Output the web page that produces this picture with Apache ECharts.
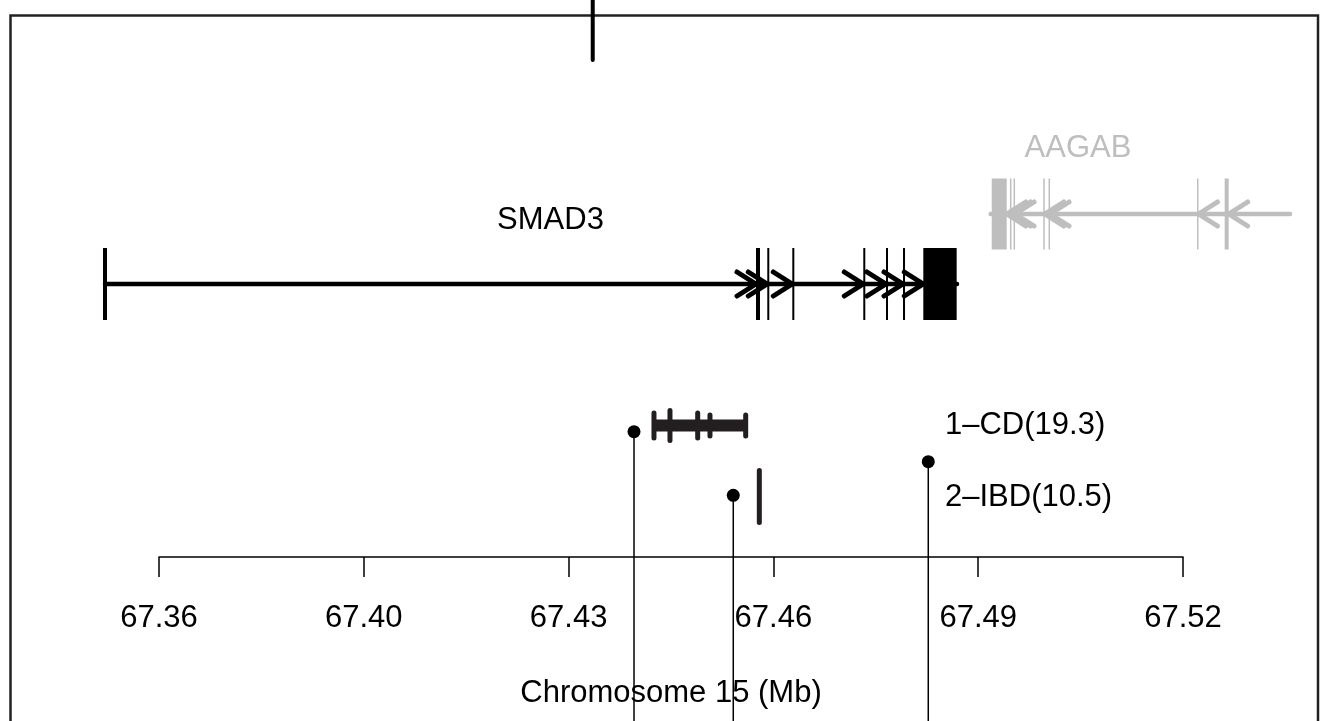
<!DOCTYPE html>
<html>
<head>
<meta charset="utf-8">
<script src="https://cdn.jsdelivr.net/npm/echarts@6/dist/echarts.min.js"></script>
<style>
  html, body { margin: 0; padding: 0; background: #fff; }
  #chart { width: 1328px; height: 721px; }
</style>
</head>
<body>
<div id="chart"></div>
<script>
// ---- Axis ticks (Mb) and the labels printed under them ----
const tickValues = [67.36, 67.392, 67.424, 67.456, 67.488, 67.52];
const tickLabels = ['67.36', '67.40', '67.43', '67.46', '67.49', '67.52'];

// ---- Gene models (Mb) ----
const geneNames  = ['SMAD3', 'AAGAB'];
const geneStrand = ['+', '-'];
const geneStart  = [67.35156, 67.48995];
const geneEnd    = [67.48469, 67.53672];
const geneLabelPos = [67.42117, 67.50359];

const smad3ExonStart = [67.35141, 67.45344, 67.45520, 67.45911, 67.47020, 67.47375, 67.47641, 67.47958];
const smad3ExonEnd   = [67.35172, 67.45375, 67.45520, 67.45911, 67.47020, 67.47375, 67.47641, 67.48448];

const aagabExonStart = [67.49023, 67.49308, 67.49364, 67.49828, 67.49911, 67.52230, 67.52663];
const aagabExonEnd   = [67.49234, 67.49308, 67.49364, 67.49828, 67.49911, 67.52230, 67.52702];

// ---- Credible sets: variant positions (Mb) and relative tick weight ----
const credSetNames = ['1\u2013CD(19.3)', '2\u2013IBD(10.5)'];
const cs1Pos    = [67.43734, 67.43984, 67.44417, 67.44609, 67.45167];
const cs1Weight = [0.53, 0.61, 0.53, 0.46, 0.46];
const cs2Pos    = [67.45380];
const cs2Weight = [1.0];

// ---- Lead SNPs (Mb) and a marker reaching in from the panel above ----
const leadSnpPos   = [67.43422, 67.44973, 67.48020];
const upperMarkPos = [67.42777];

// ------------------------------------------------------------------
// layout
const X_MIN = 67.33671875, X_MAX = 67.54109375;   // plot frame extent
const FONT = 'Liberation Sans';
const FS = 31;
const GENE_ROW = [268, 198];          // y (px below frame top) of each gene backbone
const GENE_LABEL_ROW = [204, 132];
const EXON_HALF = [36, 35.5];
const GENE_COLOR = ['#000000', '#bebebe'];
const GENE_LW = [4.5, 4.5];
const EXON_STROKE = [2, 1.5];
const CS_ROW = [409.5, 480.5];
const CS_LABEL_ROW = [409.5, 481.5];
const CS_LABEL_X = 67.48281;
const CS_TICK_MAX = 57;
const CS_COLOR = '#231f20';
const LEAD_ROW = [415.7, 479.3, 445.7];

const exonStarts = [smad3ExonStart, aagabExonStart];
const exonEnds   = [smad3ExonEnd, aagabExonEnd];
const credSets = [
  { pos: cs1Pos, w: cs1Weight },
  { pos: cs2Pos, w: cs2Weight }
];

function nearestTick(v) {
  let best = 0;
  for (let i = 1; i < tickValues.length; i++) {
    if (Math.abs(tickValues[i] - v) < Math.abs(tickValues[best] - v)) best = i;
  }
  return best;
}

// Gene: backbone, strand chevrons on every intron, exon blocks, name
function renderGene(params, api) {
  const g = api.value(2);
  const row = GENE_ROW[g];
  const color = GENE_COLOR[g];
  const sw = EXON_STROKE[g];
  const p0 = api.coord([geneStart[g], row]);
  const p1 = api.coord([geneEnd[g], row]);
  const y = p0[1];
  const children = [];

  children.push({
    type: 'line',
    shape: { x1: p0[0], y1: y, x2: p1[0], y2: y },
    style: { stroke: color, lineWidth: GENE_LW[g], lineCap: 'round' }
  });

  const es = exonStarts[g], ee = exonEnds[g];
  const introns = [];
  if (es[0] - geneStart[g] > 0.001) introns.push([geneStart[g], es[0]]);
  for (let i = 0; i < es.length - 1; i++) introns.push([ee[i], es[i + 1]]);
  if (geneEnd[g] - ee[ee.length - 1] > 0.001) introns.push([ee[ee.length - 1], geneEnd[g]]);

  const L = 19, H = 12;
  introns.forEach(function (seg) {
    let tip, dir;
    if (geneStrand[g] === '+') {
      tip = api.coord([seg[1], row])[0] - sw / 2; dir = 1;
    } else {
      tip = api.coord([seg[0], row])[0] + sw / 2; dir = -1;
    }
    children.push({
      type: 'polyline',
      shape: { points: [[tip - dir * L, y - H], [tip, y], [tip - dir * L, y + H]] },
      style: { stroke: color, lineWidth: 5, lineCap: 'round', lineJoin: 'round', fill: null }
    });
  });

  for (let i = 0; i < es.length; i++) {
    const a = api.coord([es[i], row])[0];
    const b = api.coord([ee[i], row])[0];
    children.push({
      type: 'rect',
      shape: { x: a, y: y - EXON_HALF[g] + sw / 2, width: Math.max(b - a, 0.01), height: 2 * EXON_HALF[g] - sw },
      style: { fill: color, stroke: color, lineWidth: sw }
    });
  }

  const lp = api.coord([geneLabelPos[g], GENE_LABEL_ROW[g]]);
  children.push({
    type: 'text',
    style: {
      text: geneNames[g], x: lp[0], y: lp[1], fill: color,
      fontSize: FS, fontFamily: FONT, align: 'center', verticalAlign: 'middle'
    }
  });
  return { type: 'group', children: children };
}

// Credible set: span bar, one tick per variant, set label
function renderCredSet(params, api) {
  const k = api.value(2);
  const cs = credSets[k];
  const row = CS_ROW[k];
  const children = [];
  const xs = cs.pos.map(function (p) { return api.coord([p, row])[0]; });
  const y = api.coord([cs.pos[0], row])[1];
  if (xs.length > 1) {
    children.push({
      type: 'line',
      shape: { x1: Math.min.apply(null, xs), y1: y, x2: Math.max.apply(null, xs), y2: y },
      style: { stroke: CS_COLOR, lineWidth: 12, lineCap: 'butt' }
    });
  }
  xs.forEach(function (x, i) {
    const half = cs.w[i] * CS_TICK_MAX / 2 - 2.5;
    children.push({
      type: 'line',
      shape: { x1: x, y1: y - half, x2: x, y2: y + half },
      style: { stroke: CS_COLOR, lineWidth: 5, lineCap: 'round' }
    });
  });
  const lp = api.coord([CS_LABEL_X, CS_LABEL_ROW[k]]);
  children.push({
    type: 'text',
    style: {
      text: credSetNames[k], x: lp[0], y: lp[1], fill: '#000',
      fontSize: FS, fontFamily: FONT, align: 'left', verticalAlign: 'middle'
    }
  });
  return { type: 'group', children: children };
}

// Lead SNP: dot with a stem running to the bottom of the page
function renderLead(params, api) {
  const i = api.value(1);
  const p = api.coord([api.value(0), LEAD_ROW[i]]);
  return {
    type: 'group',
    children: [
      { type: 'line', shape: { x1: p[0], y1: p[1], x2: p[0], y2: 760 },
        style: { stroke: '#000', lineWidth: 1.5 } },
      { type: 'circle', shape: { cx: p[0], cy: p[1], r: 6.5 }, style: { fill: '#000' } }
    ]
  };
}

// Marker entering from above the frame
function renderUpper(params, api) {
  const top = api.coord([api.value(0), -40]);
  const bot = api.coord([api.value(0), 44]);
  return {
    type: 'line',
    shape: { x1: top[0], y1: top[1], x2: bot[0], y2: bot[1] },
    style: { stroke: '#000', lineWidth: 4, lineCap: 'round' }
  };
}

const chart = echarts.init(document.getElementById('chart'), null, { renderer: 'canvas' });

chart.setOption({
  animation: false,
  backgroundColor: '#ffffff',
  grid: [
    { left: 10, right: 10, top: 16, bottom: 0, show: false },
    { left: 159, right: 145, top: 556, height: 1, show: false }
  ],
  xAxis: [
    { gridIndex: 0, type: 'value', min: X_MIN, max: X_MAX, show: false },
    {
      gridIndex: 1, type: 'value', min: 67.36, max: 67.52, position: 'bottom',
      axisLine: { show: true, onZero: false, lineStyle: { color: '#000', width: 1.5 } },
      axisTick: { show: true, customValues: tickValues, length: 20, lineStyle: { color: '#000', width: 1.5 } },
      axisLabel: {
        customValues: tickValues,
        formatter: function (v) { return tickLabels[nearestTick(v)]; },
        margin: 46, fontSize: FS, color: '#000', fontFamily: FONT
      },
      splitLine: { show: false },
      name: 'Chromosome 15 (Mb)', nameLocation: 'middle', nameGap: 121,
      nameTextStyle: { fontSize: FS, color: '#000', fontFamily: FONT }
    }
  ],
  yAxis: [
    { gridIndex: 0, type: 'value', min: 0, max: 705, inverse: true, show: false },
    { gridIndex: 1, type: 'value', min: 0, max: 1, show: false }
  ],
  graphic: [{
    type: 'polyline',
    shape: { points: [[10.5, 760], [10.5, 15.5], [1318, 15.5], [1318, 760]] },
    style: { stroke: '#222', lineWidth: 2.5, fill: null },
    z: 10
  }],
  series: [
    {
      type: 'custom', xAxisIndex: 0, yAxisIndex: 0, silent: true,
      renderItem: renderGene,
      encode: { x: [0, 1] },
      data: geneNames.map(function (n, i) { return [geneStart[i], geneEnd[i], i]; })
    },
    {
      type: 'custom', xAxisIndex: 0, yAxisIndex: 0, silent: true,
      renderItem: renderLead,
      encode: { x: 0 },
      data: leadSnpPos.map(function (p, i) { return [p, i]; }),
      z: 3
    },
    {
      type: 'custom', xAxisIndex: 0, yAxisIndex: 0, silent: true,
      renderItem: renderCredSet,
      encode: { x: [0, 1] },
      data: credSets.map(function (cs, k) { return [cs.pos[0], cs.pos[cs.pos.length - 1], k]; }),
      z: 4
    },
    {
      type: 'custom', xAxisIndex: 0, yAxisIndex: 0, silent: true,
      renderItem: renderUpper,
      encode: { x: 0 },
      data: upperMarkPos.map(function (p) { return [p]; }),
      z: 11
    }
  ]
});
</script>
</body>
</html>
